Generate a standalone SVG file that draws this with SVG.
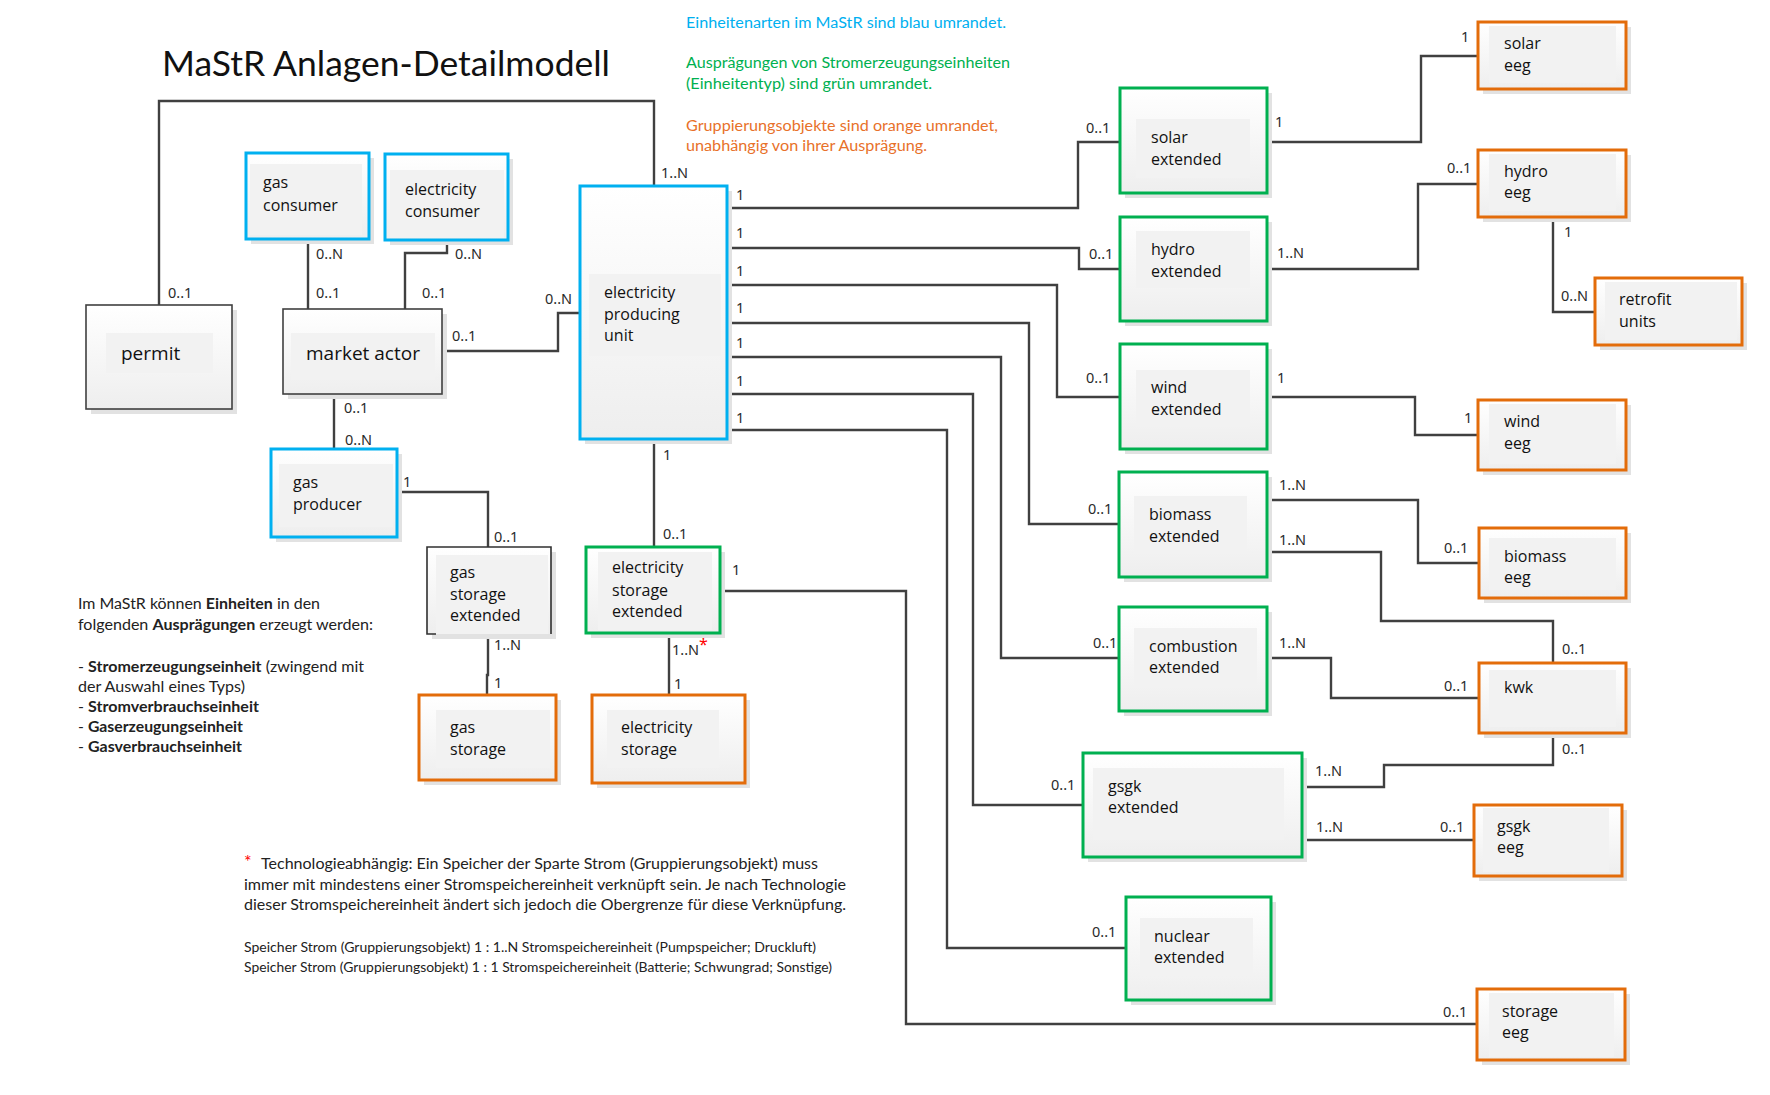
<svg xmlns="http://www.w3.org/2000/svg" width="1770" height="1095" viewBox="0 0 1770 1095">
<defs>
<linearGradient id="g" x1="0" y1="0" x2="0" y2="1">
<stop offset="0" stop-color="#ffffff"/>
<stop offset="1" stop-color="#eeeeee"/>
</linearGradient>
</defs>
<style>
.sh{fill:#e2e2e2}
.bx{fill:url(#g)}
.in{fill:#f2f2f2}
.blue{stroke:#00B0F0;stroke-width:3}
.green{stroke:#00B050;stroke-width:3}
.orange{stroke:#E36C0A;stroke-width:3}
.plain{stroke:#404040;stroke-width:1.6}
.t{font-family:"Open Sans","Noto Sans",sans-serif;font-size:16px;fill:#111}
.tb{font-family:"Open Sans","Noto Sans",sans-serif;font-size:19px;fill:#111}
.lb{font-family:"Noto Sans","Open Sans",sans-serif;font-size:14.5px;fill:#2a2a2a}
.c{fill:none;stroke:#404040;stroke-width:2.4}
.cal{font-family:Lato,"Open Sans",sans-serif;font-size:15.5px}
.note{fill:#222}
</style>
<rect width="1770" height="1095" fill="#ffffff"/>

<text x="162" y="76" font-family="Lato,'Open Sans',sans-serif" font-size="35" fill="#111" textLength="448" lengthAdjust="spacingAndGlyphs">MaStR Anlagen-Detailmodell</text>

<g id="legend" class="cal">
<text x="686" y="28" fill="#00B0F0" textLength="320" lengthAdjust="spacingAndGlyphs">Einheitenarten im MaStR sind blau umrandet.</text>
<text x="686" y="68" fill="#00B050" textLength="324" lengthAdjust="spacingAndGlyphs">Ausprägungen von Stromerzeugungseinheiten</text>
<text x="686" y="89" fill="#00B050" textLength="246" lengthAdjust="spacingAndGlyphs">(Einheitentyp) sind grün umrandet.</text>
<text x="686" y="131" fill="#E8712A" textLength="312" lengthAdjust="spacingAndGlyphs">Gruppierungsobjekte sind orange umrandet,</text>
<text x="686" y="151" fill="#E8712A" textLength="241" lengthAdjust="spacingAndGlyphs">unabhängig von ihrer Ausprägung.</text>
</g>

<g id="connectors">
<path class="c" d="M159 305 V101 H654 V186"/>
<path class="c" d="M308 239 V309"/>
<path class="c" d="M447 239 V253 H405 V309"/>
<path class="c" d="M443 351 H558 V313 H580"/>
<path class="c" d="M334 394 V450"/>
<path class="c" d="M397 492 H488 V547"/>
<path class="c" d="M488 634 V675 H487 V695"/>
<path class="c" d="M654 439 V547"/>
<path class="c" d="M669 633 V695"/>
<path class="c" d="M720 591 H906 V1024 H1477"/>
<path class="c" d="M727 208 H1078 V142 H1120"/>
<path class="c" d="M727 248 H1079 V269 H1120"/>
<path class="c" d="M727 285 H1057 V397 H1120"/>
<path class="c" d="M727 323 H1029 V524 H1119"/>
<path class="c" d="M727 357 H1001 V658 H1119"/>
<path class="c" d="M727 394 H973 V805 H1083"/>
<path class="c" d="M727 430 H947 V948 H1126"/>
<path class="c" d="M1267 142 H1421 V56 H1478"/>
<path class="c" d="M1267 269 H1418 V184 H1478"/>
<path class="c" d="M1553 217 V312 H1595"/>
<path class="c" d="M1267 397 H1415 V435 H1478"/>
<path class="c" d="M1267 500 H1418 V563 H1479"/>
<path class="c" d="M1267 552 H1381 V621 H1553 V663"/>
<path class="c" d="M1267 658 H1331 V698 H1479"/>
<path class="c" d="M1553 733 V765 H1384 V787 H1302"/>
<path class="c" d="M1302 840 H1474"/>
</g>

<g id="labels" class="lb">
<text x="168" y="298">0..1</text>
<text x="661" y="178">1..N</text>
<text x="316" y="259">0..N</text>
<text x="316" y="298">0..1</text>
<text x="455" y="259">0..N</text>
<text x="422" y="298">0..1</text>
<text x="452" y="341">0..1</text>
<text x="545" y="304">0..N</text>
<text x="344" y="413">0..1</text>
<text x="345" y="445">0..N</text>
<text x="403" y="487">1</text>
<text x="494" y="542">0..1</text>
<text x="494" y="650">1..N</text>
<text x="494" y="688">1</text>
<text x="663" y="460">1</text>
<text x="663" y="539">0..1</text>
<text x="672" y="655">1..N<tspan fill="#FF0000" font-size="16" dy="-5">*</tspan></text>
<text x="674" y="689">1</text>
<text x="732" y="575">1</text>
<text x="1443" y="1017">0..1</text>
<text x="736" y="200">1</text>
<text x="736" y="238">1</text>
<text x="736" y="276">1</text>
<text x="736" y="313">1</text>
<text x="736" y="348">1</text>
<text x="736" y="386">1</text>
<text x="736" y="423">1</text>
<text x="1086" y="133">0..1</text>
<text x="1089" y="259">0..1</text>
<text x="1086" y="383">0..1</text>
<text x="1088" y="514">0..1</text>
<text x="1093" y="648">0..1</text>
<text x="1051" y="790">0..1</text>
<text x="1092" y="937">0..1</text>
<text x="1275" y="127">1</text>
<text x="1461" y="42">1</text>
<text x="1277" y="258">1..N</text>
<text x="1447" y="173">0..1</text>
<text x="1564" y="237">1</text>
<text x="1561" y="301">0..N</text>
<text x="1277" y="383">1</text>
<text x="1464" y="423">1</text>
<text x="1279" y="490">1..N</text>
<text x="1444" y="553">0..1</text>
<text x="1279" y="545">1..N</text>
<text x="1562" y="654">0..1</text>
<text x="1279" y="648">1..N</text>
<text x="1444" y="691">0..1</text>
<text x="1562" y="754">0..1</text>
<text x="1315" y="776">1..N</text>
<text x="1316" y="832">1..N</text>
<text x="1440" y="832">0..1</text>
</g>

<g id="permit">
<rect class="sh" x="91" y="310" width="146" height="104"/>
<rect class="bx plain" x="86" y="305" width="146" height="104"/>
<rect class="in" x="106" y="333" width="107" height="40"/>
<text class="tb" x="121" y="360">permit</text>
</g>

<g id="gas-consumer">
<rect class="sh" x="251" y="158" width="123" height="86"/>
<rect class="bx blue" x="246" y="153" width="123" height="86"/>
<rect class="in" x="250" y="164" width="112" height="71"/>
<text class="t" x="263" y="188">gas</text>
<text class="t" x="263" y="211">consumer</text>
</g>

<g id="electricity-consumer">
<rect class="sh" x="390" y="159" width="123" height="86"/>
<rect class="bx blue" x="385" y="154" width="123" height="86"/>
<rect class="in" x="390" y="170" width="114" height="68"/>
<text class="t" x="405" y="195">electricity</text>
<text class="t" x="405" y="217">consumer</text>
</g>

<g id="market-actor">
<rect class="sh" x="288" y="314" width="159" height="85"/>
<rect class="bx plain" x="283" y="309" width="159" height="85"/>
<rect class="in" x="291" y="333" width="144" height="47"/>
<text class="tb" x="306" y="360">market actor</text>
</g>

<g id="electricity-producing-unit">
<rect class="sh" x="585" y="191" width="147" height="253"/>
<rect class="bx blue" x="580" y="186" width="147" height="253"/>
<rect class="in" x="589" y="274" width="132" height="82"/>
<text class="t" x="604" y="298">electricity</text>
<text class="t" x="604" y="320">producing</text>
<text class="t" x="604" y="341">unit</text>
</g>

<g id="gas-producer">
<rect class="sh" x="276" y="454" width="126" height="88"/>
<rect class="bx blue" x="271" y="449" width="126" height="88"/>
<rect class="in" x="279" y="464" width="114" height="63"/>
<text class="t" x="293" y="488">gas</text>
<text class="t" x="293" y="510">producer</text>
</g>

<g id="gas-storage-extended">
<rect class="sh" x="432" y="552" width="124" height="87"/>
<rect fill="url(#g)" x="427" y="547" width="124" height="87"/>
<rect class="in" x="436" y="555" width="112" height="79"/>
<path fill="none" stroke="#303030" stroke-width="1.6" d="M436 634 H427 V547 H551 V634"/>
<text class="t" x="450" y="578">gas</text>
<text class="t" x="450" y="600">storage</text>
<text class="t" x="450" y="621">extended</text>
</g>

<g id="electricity-storage-extended">
<rect class="sh" x="591" y="552" width="134" height="86"/>
<rect class="bx green" x="586" y="547" width="134" height="86"/>
<rect class="in" x="598" y="552" width="114" height="78"/>
<text class="t" x="612" y="573">electricity</text>
<text class="t" x="612" y="596">storage</text>
<text class="t" x="612" y="617">extended</text>
</g>

<g id="gas-storage">
<rect class="sh" x="424" y="700" width="137" height="85"/>
<rect class="bx orange" x="419" y="695" width="137" height="85"/>
<rect class="in" x="436" y="710" width="114" height="58"/>
<text class="t" x="450" y="733">gas</text>
<text class="t" x="450" y="755">storage</text>
</g>

<g id="electricity-storage">
<rect class="sh" x="597" y="700" width="153" height="88"/>
<rect class="bx orange" x="592" y="695" width="153" height="88"/>
<rect class="in" x="607" y="710" width="112" height="58"/>
<text class="t" x="621" y="733">electricity</text>
<text class="t" x="621" y="755">storage</text>
</g>

<g id="solar-extended">
<rect class="sh" x="1125" y="93" width="147" height="105"/>
<rect class="bx green" x="1120" y="88" width="147" height="105"/>
<rect class="in" x="1136" y="119" width="114" height="59"/>
<text class="t" x="1151" y="143">solar</text>
<text class="t" x="1151" y="165">extended</text>
</g>

<g id="hydro-extended">
<rect class="sh" x="1125" y="222" width="147" height="104"/>
<rect class="bx green" x="1120" y="217" width="147" height="104"/>
<rect class="in" x="1136" y="231" width="114" height="57"/>
<text class="t" x="1151" y="255">hydro</text>
<text class="t" x="1151" y="277">extended</text>
</g>

<g id="wind-extended">
<rect class="sh" x="1125" y="349" width="147" height="105"/>
<rect class="bx green" x="1120" y="344" width="147" height="105"/>
<rect class="in" x="1136" y="370" width="114" height="57"/>
<text class="t" x="1151" y="393">wind</text>
<text class="t" x="1151" y="415">extended</text>
</g>

<g id="biomass-extended">
<rect class="sh" x="1124" y="477" width="148" height="105"/>
<rect class="bx green" x="1119" y="472" width="148" height="105"/>
<rect class="in" x="1134" y="496" width="113" height="57"/>
<text class="t" x="1149" y="520">biomass</text>
<text class="t" x="1149" y="542">extended</text>
</g>

<g id="combustion-extended">
<rect class="sh" x="1124" y="612" width="148" height="104"/>
<rect class="bx green" x="1119" y="607" width="148" height="104"/>
<rect class="in" x="1134" y="628" width="123" height="58"/>
<text class="t" x="1149" y="652">combustion</text>
<text class="t" x="1149" y="673">extended</text>
</g>

<g id="gsgk-extended">
<rect class="sh" x="1088" y="758" width="219" height="104"/>
<rect class="bx green" x="1083" y="753" width="219" height="104"/>
<rect class="in" x="1093" y="768" width="191" height="72"/>
<text class="t" x="1108" y="792">gsgk</text>
<text class="t" x="1108" y="813">extended</text>
</g>

<g id="nuclear-extended">
<rect class="sh" x="1131" y="902" width="145" height="103"/>
<rect class="bx green" x="1126" y="897" width="145" height="103"/>
<rect class="in" x="1140" y="918" width="113" height="58"/>
<text class="t" x="1154" y="942">nuclear</text>
<text class="t" x="1154" y="963">extended</text>
</g>

<g id="solar-eeg">
<rect class="sh" x="1483" y="27" width="148" height="67"/>
<rect class="bx orange" x="1478" y="22" width="148" height="67"/>
<rect class="in" x="1489" y="26" width="127" height="57"/>
<text class="t" x="1504" y="49">solar</text>
<text class="t" x="1504" y="71">eeg</text>
</g>

<g id="hydro-eeg">
<rect class="sh" x="1483" y="155" width="148" height="67"/>
<rect class="bx orange" x="1478" y="150" width="148" height="67"/>
<rect class="in" x="1489" y="154" width="127" height="57"/>
<text class="t" x="1504" y="177">hydro</text>
<text class="t" x="1504" y="198">eeg</text>
</g>

<g id="retrofit-units">
<rect class="sh" x="1600" y="283" width="147" height="67"/>
<rect class="bx orange" x="1595" y="278" width="147" height="67"/>
<rect class="in" x="1605" y="282" width="132" height="58"/>
<text class="t" x="1619" y="305">retrofit</text>
<text class="t" x="1619" y="327">units</text>
</g>

<g id="wind-eeg">
<rect class="sh" x="1483" y="405" width="148" height="70"/>
<rect class="bx orange" x="1478" y="400" width="148" height="70"/>
<rect class="in" x="1489" y="404" width="127" height="60"/>
<text class="t" x="1504" y="427">wind</text>
<text class="t" x="1504" y="449">eeg</text>
</g>

<g id="biomass-eeg">
<rect class="sh" x="1484" y="533" width="147" height="70"/>
<rect class="bx orange" x="1479" y="528" width="147" height="70"/>
<rect class="in" x="1489" y="538" width="127" height="52"/>
<text class="t" x="1504" y="562">biomass</text>
<text class="t" x="1504" y="583">eeg</text>
</g>

<g id="kwk">
<rect class="sh" x="1484" y="668" width="147" height="70"/>
<rect class="bx orange" x="1479" y="663" width="147" height="70"/>
<rect class="in" x="1489" y="670" width="127" height="57"/>
<text class="t" x="1504" y="693">kwk</text>
</g>

<g id="gsgk-eeg">
<rect class="sh" x="1479" y="810" width="148" height="71"/>
<rect class="bx orange" x="1474" y="805" width="148" height="71"/>
<rect class="in" x="1483" y="808" width="126" height="64"/>
<text class="t" x="1497" y="832">gsgk</text>
<text class="t" x="1497" y="853">eeg</text>
</g>

<g id="storage-eeg">
<rect class="sh" x="1482" y="994" width="148" height="71"/>
<rect class="bx orange" x="1477" y="989" width="148" height="71"/>
<rect class="in" x="1489" y="993" width="125" height="64"/>
<text class="t" x="1502" y="1017">storage</text>
<text class="t" x="1502" y="1038">eeg</text>
</g>

<g id="info-text" class="cal note">
<text x="78" y="609" textLength="242" lengthAdjust="spacingAndGlyphs">Im MaStR können <tspan font-weight="bold">Einheiten</tspan> in den</text>
<text x="78" y="630" textLength="295" lengthAdjust="spacingAndGlyphs">folgenden <tspan font-weight="bold">Ausprägungen</tspan> erzeugt werden:</text>
<text x="78" y="672" textLength="286" lengthAdjust="spacingAndGlyphs">- <tspan font-weight="bold">Stromerzeugungseinheit</tspan> (zwingend mit</text>
<text x="78" y="692" textLength="167" lengthAdjust="spacingAndGlyphs">der Auswahl eines Typs)</text>
<text x="78" y="712" textLength="181" lengthAdjust="spacingAndGlyphs">- <tspan font-weight="bold">Stromverbrauchseinheit</tspan></text>
<text x="78" y="732" textLength="165" lengthAdjust="spacingAndGlyphs">- <tspan font-weight="bold">Gaserzeugungseinheit</tspan></text>
<text x="78" y="752" textLength="164" lengthAdjust="spacingAndGlyphs">- <tspan font-weight="bold">Gasverbrauchseinheit</tspan></text>
</g>

<g id="footnote" class="cal note">
<text x="244" y="868" fill="#FF0000" font-size="18">*</text>
<text x="261" y="869" textLength="557" lengthAdjust="spacingAndGlyphs">Technologieabhängig: Ein Speicher der Sparte Strom (Gruppierungsobjekt) muss</text>
<text x="244" y="890" textLength="602" lengthAdjust="spacingAndGlyphs">immer mit mindestens einer Stromspeichereinheit verknüpft sein. Je nach Technologie</text>
<text x="244" y="910" textLength="602" lengthAdjust="spacingAndGlyphs">dieser Stromspeichereinheit ändert sich jedoch die Obergrenze für diese Verknüpfung.</text>
<text x="244" y="952" font-size="13" textLength="572" lengthAdjust="spacingAndGlyphs">Speicher Strom (Gruppierungsobjekt) 1 : 1..N Stromspeichereinheit (Pumpspeicher; Druckluft)</text>
<text x="244" y="972" font-size="13" textLength="588" lengthAdjust="spacingAndGlyphs">Speicher Strom (Gruppierungsobjekt) 1 : 1 Stromspeichereinheit (Batterie; Schwungrad; Sonstige)</text>
</g>
</svg>
